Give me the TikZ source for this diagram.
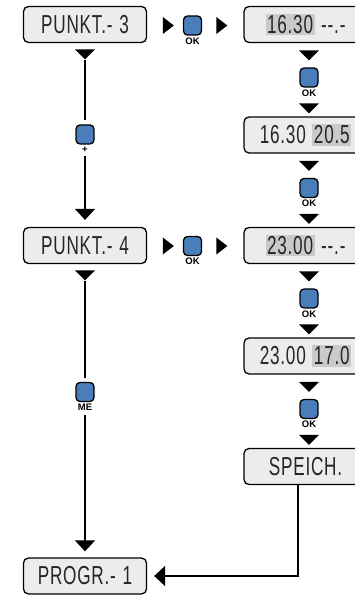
\documentclass[tikz,border=0pt]{standalone}
\usepackage{fontspec}
\setmainfont{Liberation Sans}
\newfontfamily\lcdfont[FakeStretch=0.66,LetterSpace=3,WordSpace=1.2]{Liberation Sans}
\usetikzlibrary{arrows.meta,shapes.geometric}

\definecolor{lcdgray}{RGB}{236,236,236}
\definecolor{digitgray}{RGB}{202,202,202}
\definecolor{keyblue}{RGB}{74,126,187}

\newcommand{\hldigits}[1]{{\setlength{\fboxsep}{1.5pt}\colorbox{digitgray}{#1}}}

\tikzset{
  lcd/.style={draw, line width=1.3pt, rounded corners=5pt, fill=lcdgray,
    minimum width=123pt, minimum height=36pt, inner sep=0pt,
    font=\lcdfont\fontsize{26}{26}\selectfont, text=black!85},
  okkey/.style={draw, line width=1.3pt, rounded corners=4pt, fill=keyblue,
    minimum width=18pt, minimum height=19pt, inner sep=0pt},
  keylbl/.style={font=\bfseries\fontsize{9.5}{9.5}\selectfont, inner sep=0.5pt, label distance=1.5pt},
  tridown/.style={isosceles triangle, isosceles triangle stretches, fill=black,
    inner sep=0pt, minimum width=20pt, minimum height=10pt, rotate=-90},
  triright/.style={isosceles triangle, isosceles triangle stretches, fill=black,
    inner sep=0pt, minimum width=17pt, minimum height=11pt},
  flow/.style={line width=1.8pt},
  tip/.style={-{Triangle[width=20pt,length=11pt]}}
}

\begin{document}
\begin{tikzpicture}[x=1pt,y=1pt]
  \useasboundingbox (0,0) rectangle (355,595);
  \clip (0,0) rectangle (355,595);

  % left column
  \node[lcd] (p3) at (85,570.5) {PUNKT.- 3};
  \node[tridown] (p3t) at (85,541.5) {};
  \node[okkey, label={[keylbl, name=plusl]below:+}] (plus) at (85,460.5) {};
  \node[lcd] (p4) at (85,349.5) {PUNKT.- 4};
  \node[tridown] (p4t) at (85,320.5) {};
  \node[okkey, label={[keylbl, name=mel]below:ME}] (me) at (85,203) {};
  \node[lcd] (pr) at (85,19) {PROGR.- 1};

  % right column
  \node[lcd] (r1) at (305.5,570.5) {\hldigits{16.30} --.-};
  \node[lcd] (r2) at (305.5,460) {16.30 \hldigits{20.5}};
  \node[lcd] (r3) at (305.5,349.5) {\hldigits{23.00} --.-};
  \node[lcd] (r4) at (305.5,239) {23.00 \hldigits{17.0}};
  \node[lcd] (sp) at (305.5,128.5) {SPEICH.};

  \foreach \yc [count=\i] in {570.5,460,349.5,239}
  {
    \node[tridown] (ta\i) at (309,\yc-30) {};
    \node[okkey, label={[keylbl]below:OK}] (ok\i) at (309,\yc-53) {};
    \node[tridown] (tb\i) at (309,\yc-83) {};
  }

  % OK step into the right column
  \foreach \yc/\i in {569.5/1, 349/2}
  {
    \node[triright] (ha\i) at (167,\yc) {};
    \node[okkey, label={[keylbl]below:OK}] (hk\i) at (192.5,\yc) {};
    \node[triright] (hb\i) at (220.5,\yc) {};
  }

  \draw[flow, shorten >=4pt] (p3t) -- (plus);
  \draw[flow, tip, shorten <=3pt, shorten >=7pt] (plusl) -- (p4);
  \draw[flow, shorten >=4pt] (p4t) -- (me);
  \draw[flow, tip, shorten <=3pt, shorten >=6pt] (mel) -- (pr);
  \draw[flow, tip, shorten >=7pt] ([xshift=-7.5pt]sp.south) |- (pr.east);
\end{tikzpicture}
\end{document}
